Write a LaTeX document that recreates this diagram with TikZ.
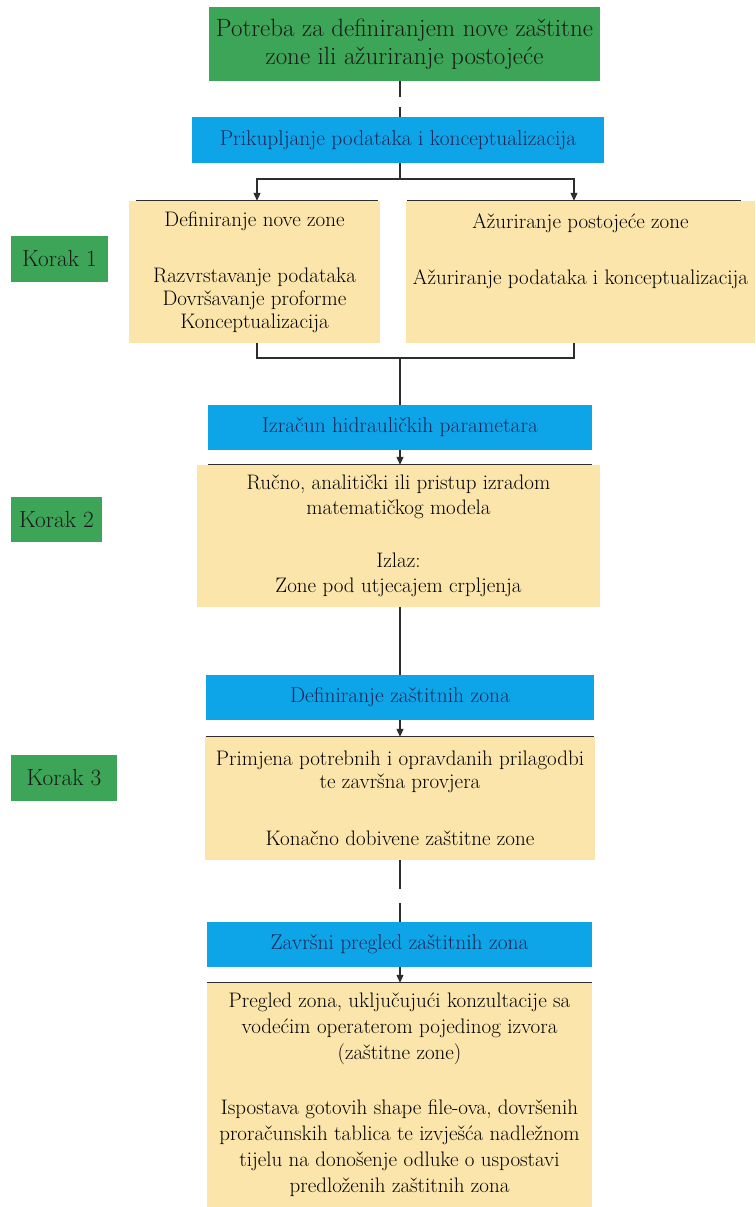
\documentclass[tikz,border=0pt]{standalone}
\usetikzlibrary{arrows.meta}
\definecolor{gr}{RGB}{61,165,87}
\definecolor{bl}{RGB}{14,165,232}
\definecolor{yl}{RGB}{251,229,170}
\definecolor{navy}{RGB}{25,40,90}
\definecolor{ln}{RGB}{45,45,45}
\begin{document}
\begin{tikzpicture}[x=1pt,y=-1pt,
 box/.style={rectangle,inner sep=0pt,align=center},
 greenbox/.style={box,fill=gr,text=black!90},
 bluebox/.style={box,fill=bl,text=navy,font=\fontsize{21.4}{26}\selectfont},
 yellowbox/.style={box,fill=yl,text=black},
 korak/.style={greenbox,font=\fontsize{23.3}{28}\selectfont},
 conn/.style={draw=ln,line width=1.1pt},
 arr/.style={conn,-{Triangle[width=7pt,length=8pt]}},
 topline/.style={draw=ln,line width=1.1pt}]
\useasboundingbox (0,0) rectangle (755,1207);

% boxes
\node[greenbox,minimum width=391pt,minimum height=74pt,font=\fontsize{25}{28}\selectfont] (top) at (404.5,44)
 {Potreba za definiranjem nove zaštitne\\zone ili ažuriranje postojeće};
\node[bluebox,minimum width=412pt,minimum height=46pt] (p1) at (398,140)
 {Prikupljanje podataka i konceptualizacija};
\node[yellowbox,minimum width=251pt,minimum height=142pt,font=\fontsize{21}{23}\selectfont] (def) at (254.5,272)
 {Definiranje nove zone\\[33pt]Razvrstavanje podataka\\Dovršavanje proforme\\Konceptualizacija};
\node[yellowbox,minimum width=349pt,minimum height=142pt,font=\fontsize{21}{23}\selectfont] (upd) at (580.5,272)
 {Ažuriranje postojeće zone\\[33pt]Ažuriranje podataka i konceptualizacija\\\mbox{}\\\mbox{}};
\node[korak,minimum width=97pt,minimum height=46pt] (k1) at (59.5,259) {Korak 1};

\node[bluebox,minimum width=384pt,minimum height=45pt] (hyd) at (400,427.5)
 {Izračun hidrauličkih parametara};
\node[yellowbox,minimum width=403pt,minimum height=142pt,font=\fontsize{21}{25}\selectfont] (out2) at (398.5,536)
 {Ručno, analitički ili pristup izradom\\matematičkog modela\\[28pt]Izlaz:\\Zone pod utjecajem crpljenja};
\node[korak,minimum width=91pt,minimum height=45pt] (k2) at (56.5,519.5) {Korak 2};

\node[bluebox,minimum width=388pt,minimum height=45pt] (zones) at (400,697.5)
 {Definiranje zaštitnih zona};
\node[yellowbox,minimum width=390pt,minimum height=123pt,font=\fontsize{21}{23}\selectfont] (out3) at (400,798.5)
 {Primjena potrebnih i opravdanih prilagodbi\\te završna provjera\\[34pt]Konačno dobivene zaštitne zone};
\node[korak,minimum width=106pt,minimum height=46pt] (k3) at (64,778) {Korak 3};

\node[bluebox,minimum width=385pt,minimum height=45pt] (final) at (399.5,944.5)
 {Završni pregled zaštitnih zona};
\node[yellowbox,minimum width=385pt,minimum height=224pt,font=\fontsize{21}{26}\selectfont] (out4) at (399.5,1095)
 {Pregled zona, uključujući konzultacije sa\\vodećim operaterom pojedinog izvora\\(zaštitne zone)\\[29pt]Ispostava gotovih shape file-ova, dovršenih\\proračunskih tablica te izvješća nadležnom\\tijelu na donošenje odluke o uspostavi\\predloženih zaštitnih zona};

% top lines of yellow boxes
\draw[topline] ([xshift=7pt]def.north west) -- ([xshift=-2pt]def.north east);
\draw[topline] ([xshift=1pt]upd.north west) -- ([xshift=-14pt]upd.north east);
\draw[topline] (out2.north -| hyd.west) -- (out2.north -| hyd.east);
\draw[topline] (out3.north -| zones.west) -- (out3.north -| zones.east);
\draw[topline] (out4.north -| final.west) -- (out4.north -| final.east);

% connectors
\coordinate (axis) at (400,0);
\coordinate (xl) at (257,0);
\coordinate (xr) at (574,0);
\coordinate (split) at (400,179);
\coordinate (merge) at (400,358);
\draw[conn,dash pattern=on 16pt off 10pt on 40pt] (top.south -| axis) -- (p1.north -| axis);
\draw[conn] (p1.south -| axis) -- (split);
\draw[arr] (split) -| (def.north -| xl);
\draw[arr] (split) -| (upd.north -| xr);
\draw[conn] (def.south -| xl) |- (merge);
\draw[conn] (upd.south -| xr) |- (merge);
\draw[conn] (merge) -- (hyd.north -| axis);
\draw[arr] (hyd.south -| axis) -- (out2.north -| axis);
\draw[conn] (out2.south -| axis) -- (zones.north -| axis);
\draw[arr] (zones.south -| axis) -- (out3.north -| axis);
\draw[conn,dash pattern=on 29pt off 14pt on 60pt] (out3.south -| axis) -- (final.north -| axis);
\draw[arr] (final.south -| axis) -- (out4.north -| axis);
\end{tikzpicture}
\end{document}
